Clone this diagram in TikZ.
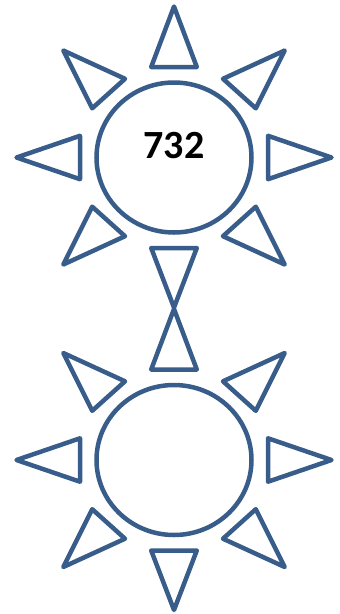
\documentclass[tikz,border=0pt]{standalone}
\usepackage{fontspec}
\setsansfont{Carlito}
\usetikzlibrary{shapes.geometric}
\definecolor{sunblue}{RGB}{56,93,138}

\begin{document}
\begin{tikzpicture}[
  x=1pt, y=-1pt,
  sundisc/.style={ellipse, draw=sunblue, line width=4.5pt, minimum width=155pt, minimum height=150pt, inner sep=0pt},
  raytri/.style={draw=sunblue, line width=4.5pt, line join=round}
]
  \useasboundingbox (0,0) rectangle (340,614);
  \foreach \sunid/\cy in {top/157.5, bot/460} {
    \begin{scope}[shift={(174,\cy)}]
      \node[sundisc] (disc\sunid) at (0,0) {};
      % straight rays
      \draw[raytri] (-22.8,-90.5) -- (0,-151) -- (22.8,-90.5) -- cycle;
      \draw[raytri] (-22.8,90.5) -- (22.8,90.5) -- (0,150) -- cycle;
      \draw[raytri] (-157.5,0) -- (-94,-21.7) -- (-94,21.7) -- cycle;
      \draw[raytri] (157.5,0) -- (94,-21.7) -- (94,21.7) -- cycle;
      % diagonal rays
      \draw[raytri] (-110.7,-107) -- (-49,-78.7) -- (-81.8,-49.2) -- cycle;
      \draw[raytri] (110.7,-107) -- (49,-78.7) -- (81.8,-49.2) -- cycle;
      \draw[raytri] (-81.8,49.2) -- (-49,78.7) -- (-110.7,107) -- cycle;
      \draw[raytri] (81.8,49.2) -- (49,78.7) -- (110.7,107) -- cycle;
    \end{scope}
  }
  \node[inner sep=0pt, font=\sffamily\bfseries\fontsize{40}{40}\selectfont] (label) at (174,145.7) {732};
\end{tikzpicture}
\end{document}
